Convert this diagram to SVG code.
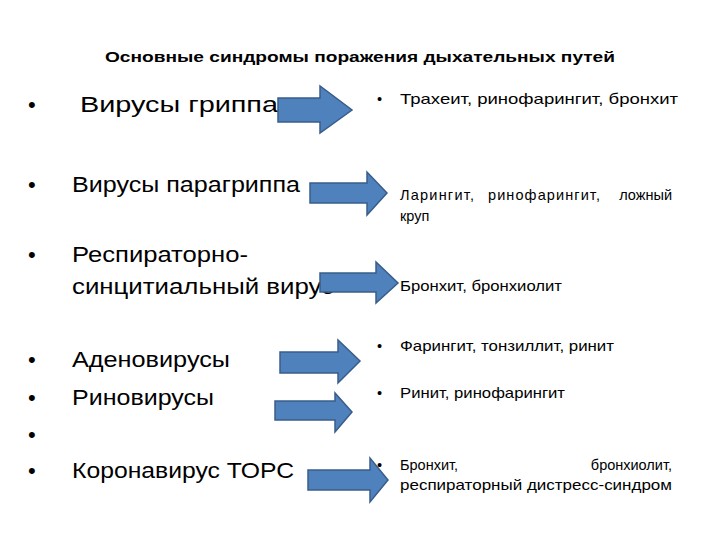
<svg xmlns="http://www.w3.org/2000/svg" width="720" height="540" viewBox="0 0 720 540">
<style>
text{font-family:"Liberation Sans","Open Sans",sans-serif;fill:#000}
.t{font-size:15px;font-weight:bold}
.l{font-size:22px}
.r{font-size:14.5px}
.a{fill:#4f81bd;stroke:#385d8a;stroke-width:1.5}
</style>
<rect width="720" height="540" fill="#fff"/>
<text class="t" x="105" y="62" textLength="510" lengthAdjust="spacingAndGlyphs">Основные синдромы поражения дыхательных путей</text>
<g id="left">
<text class="l" x="28" y="112">•</text><text class="l" x="80" y="112" textLength="198" lengthAdjust="spacingAndGlyphs">Вирусы гриппа</text>
<text class="l" x="28" y="192">•</text><text class="l" x="72" y="192" textLength="228" lengthAdjust="spacingAndGlyphs">Вирусы парагриппа</text>
<text class="l" x="28" y="262">•</text><text class="l" x="72" y="262" textLength="176" lengthAdjust="spacingAndGlyphs">Респираторно-</text>
<text class="l" x="72" y="294" textLength="262" lengthAdjust="spacingAndGlyphs">синцитиальный вирус</text>
<text class="l" x="28" y="367">•</text><text class="l" x="72" y="367" textLength="158" lengthAdjust="spacingAndGlyphs">Аденовирусы</text>
<text class="l" x="28" y="405">•</text><text class="l" x="72" y="405" textLength="142" lengthAdjust="spacingAndGlyphs">Риновирусы</text>
<text class="l" x="28" y="442">•</text>
<text class="l" x="28" y="478">•</text><text class="l" x="72" y="478" textLength="222" lengthAdjust="spacingAndGlyphs">Коронавирус ТОРС</text>
</g>
<g id="connectors">
<polygon class="a" points="278,98 320,98 320,86 352,110 320,133 320,122 278,122"/>
<polygon class="a" points="310,183 367,183 367,172 387,193 367,215 367,203 310,203"/>
<polygon class="a" points="320,273 376,273 376,262 398,283 376,303 376,292 320,292"/>
<polygon class="a" points="280,352 338,352 338,340 360,361 338,383 338,373 280,373"/>
<polygon class="a" points="275,401 335,401 335,393 352,412 335,432 335,420 275,420"/>
<polygon class="a" points="308,470 370,470 370,458 388,480 370,502 370,490 308,490"/>
</g>
<g id="right">
<text class="r" x="377" y="104">•</text><text class="r" x="400" y="104" textLength="278" lengthAdjust="spacingAndGlyphs">Трахеит, ринофарингит, бронхит</text>
<text class="r" x="400" y="200" textLength="74" lengthAdjust="spacing">Ларингит,</text>
<text class="r" x="488" y="200" textLength="112" lengthAdjust="spacing">ринофарингит,</text>
<text class="r" x="672" y="200" text-anchor="end">ложный</text>
<text class="r" x="400" y="221">круп</text>
<text class="r" x="400" y="291" textLength="162" lengthAdjust="spacingAndGlyphs">Бронхит, бронхиолит</text>
<text class="r" x="377" y="351">•</text><text class="r" x="400" y="351" textLength="214" lengthAdjust="spacingAndGlyphs">Фарингит, тонзиллит, ринит</text>
<text class="r" x="377" y="398">•</text><text class="r" x="400" y="398" textLength="165" lengthAdjust="spacingAndGlyphs">Ринит, ринофарингит</text>
<text class="r" x="377" y="470">•</text>
<text class="r" x="400" y="470">Бронхит,</text>
<text class="r" x="672" y="470" text-anchor="end">бронхиолит,</text>
<text class="r" x="400" y="490" textLength="272" lengthAdjust="spacingAndGlyphs">респираторный дистресс-синдром</text>
</g>
</svg>
